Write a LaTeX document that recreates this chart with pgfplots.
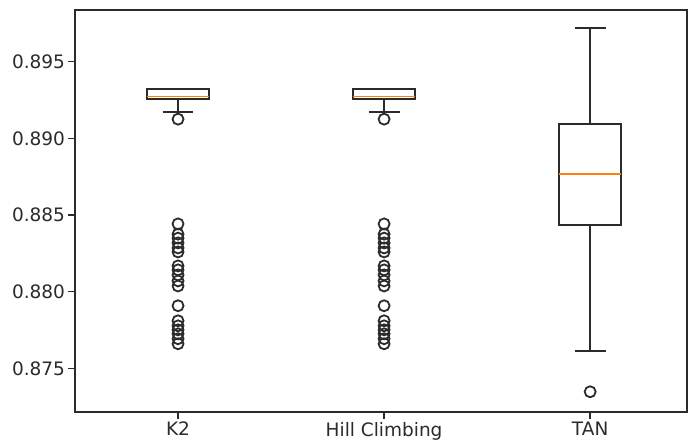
\documentclass[border=0pt]{standalone}
\usepackage{pgfplots}
\pgfplotsset{compat=1.18}
\usepgfplotslibrary{statistics}
\usepackage{fontspec}
\setmainfont{DejaVu Sans}
\definecolor{mplorange}{HTML}{FF7F0E}
\definecolor{linegray}{HTML}{2B2B2B}
% y values are (accuracy - 0.870) * 1000
\pgfplotsset{
 mybox/.style={draw=linegray, line width=1.8pt, solid, mark=o, mark size=5.5pt,
  mark options={line width=1.8pt, draw=linegray, fill=none, solid},
  boxplot/every median/.style={draw=mplorange, line width=1.6pt}},
}
\begin{document}
\begin{tikzpicture}
\useasboundingbox (0,0) rectangle (688pt,445pt);
\begin{axis}[
 at={(75pt,33pt)}, anchor=south west,
 scale only axis, width=612pt, height=402pt,
 xmin=0.5, xmax=3.47, ymin=2.15, ymax=28.37,
 xtick={1,2,3}, xticklabels={K2,Hill Climbing,TAN},
 ytick={5,10,15,20,25},
 yticklabels={0.875,0.880,0.885,0.890,0.895},
 tick label style={font=\fontsize{18.5}{22}\selectfont, text=linegray},
 tick align=outside, tick pos=left, major tick length=6.5pt,
 axis line style={linegray, line width=1.4pt},
 every tick/.style={linegray, line width=1.4pt},
 boxplot/draw direction=y,
]
\addplot+[boxplot prepared={draw position=1, lower whisker=21.74, lower quartile=22.57, median=22.74, upper quartile=23.22, upper whisker=23.22, box extend=0.3, whisker extend=0.15}, mybox]
 table[row sep=\\, y index=0] {21.25\\ 14.42\\ 13.75\\ 13.49\\ 13.18\\ 12.85\\ 12.59\\ 11.68\\ 11.42\\ 11.09\\ 10.70\\ 10.37\\ 9.08\\ 8.10\\ 7.77\\ 7.51\\ 7.25\\ 6.93\\ 6.60\\};
\addplot+[boxplot prepared={draw position=2, lower whisker=21.74, lower quartile=22.57, median=22.74, upper quartile=23.22, upper whisker=23.22, box extend=0.3, whisker extend=0.15}, mybox]
 table[row sep=\\, y index=0] {21.25\\ 14.42\\ 13.75\\ 13.49\\ 13.18\\ 12.85\\ 12.59\\ 11.68\\ 11.42\\ 11.09\\ 10.70\\ 10.37\\ 9.08\\ 8.10\\ 7.77\\ 7.51\\ 7.25\\ 6.93\\ 6.60\\};
\addplot+[boxplot prepared={draw position=3, lower whisker=6.14, lower quartile=14.35, median=17.68, upper quartile=20.94, upper whisker=27.20, box extend=0.3, whisker extend=0.15}, mybox]
 table[row sep=\\, y index=0] {3.47\\};
\end{axis}
\end{tikzpicture}
\end{document}
